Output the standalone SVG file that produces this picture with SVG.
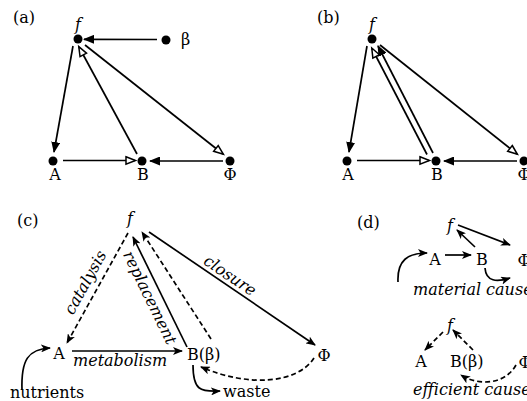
<svg xmlns="http://www.w3.org/2000/svg" width="527" height="401" viewBox="0 0 527 401">
<style>
.lbl{font-family:"DejaVu Serif","Liberation Serif",serif;font-size:16px;fill:#000}
.it{font-style:italic}
.mid{text-anchor:middle}
.ln{stroke:#000;stroke-width:1.7;fill:none}
.dash{stroke-dasharray:5 3}
.dot{fill:#000}
</style>
<defs>
<marker id="fh" viewBox="0 0 11 9" refX="10" refY="4.5" markerWidth="11" markerHeight="9" markerUnits="userSpaceOnUse" orient="auto"><path d="M0,0 L11,4.5 L0,9 z" fill="#000"/></marker>
<marker id="oh" viewBox="0 0 11 9" refX="10" refY="4.5" markerWidth="11" markerHeight="9" markerUnits="userSpaceOnUse" orient="auto" overflow="visible"><path d="M1,0.8 L10.5,4.5 L1,8.2 z" fill="#fff" stroke="#000" stroke-width="1.5"/></marker>
<marker id="st" viewBox="0 0 10 8" refX="9" refY="4" markerWidth="10" markerHeight="8" markerUnits="userSpaceOnUse" orient="auto"><path d="M0,0 L10,4 L0,8 L2.5,4 z" fill="#000"/></marker>
</defs>

<!-- panel labels -->
<text class="lbl" x="13" y="23">(a)</text>
<text class="lbl" x="317" y="23">(b)</text>
<text class="lbl" x="17" y="226">(c)</text>
<text class="lbl" x="357" y="228">(d)</text>

<!-- Panel (a) nodes -->
<g id="a-f"><circle class="dot" cx="78" cy="39" r="4.5"/><text class="lbl it mid" x="78" y="30">f</text></g>
<g id="a-beta"><circle class="dot" cx="166" cy="40" r="4.5"/><text class="lbl" x="181" y="45">β</text></g>
<g id="a-A"><circle class="dot" cx="53" cy="161" r="4.5"/><text class="lbl mid" x="55" y="180">A</text></g>
<g id="a-B"><circle class="dot" cx="142" cy="161" r="4.5"/><text class="lbl mid" x="143" y="180">B</text></g>
<g id="a-Phi"><circle class="dot" cx="230" cy="161" r="4.5"/><text class="lbl mid" x="230" y="180">Φ</text></g>

<!-- Panel (b) nodes -->
<g id="b-f"><circle class="dot" cx="372" cy="39" r="4.5"/><text class="lbl it mid" x="372" y="30">f</text></g>
<g id="b-A"><circle class="dot" cx="347" cy="161" r="4.5"/><text class="lbl mid" x="348" y="180">A</text></g>
<g id="b-B"><circle class="dot" cx="436" cy="161" r="4.5"/><text class="lbl mid" x="437" y="180">B</text></g>
<g id="b-Phi"><circle class="dot" cx="524" cy="161" r="4.5"/><text class="lbl mid" x="524" y="180">Φ</text></g>

<!-- Panel (c) nodes -->
<g id="c-f"><text class="lbl it mid" x="130" y="224">f</text></g>
<g id="c-A"><text class="lbl mid" x="59" y="359">A</text></g>
<g id="c-B"><text class="lbl" x="187" y="360">B(β)</text></g>
<g id="c-Phi"><text class="lbl mid" x="324" y="361">Φ</text></g>
<g id="c-nutrients"><text class="lbl" x="10" y="398">nutrients</text></g>
<g id="c-waste"><text class="lbl" x="223" y="397">waste</text></g>

<!-- Panel (d) nodes -->
<g id="d1-f"><text class="lbl it mid" x="450" y="231">f</text></g>
<g id="d1-A"><text class="lbl mid" x="435" y="265">A</text></g>
<g id="d1-B"><text class="lbl mid" x="482" y="265">B</text></g>
<g id="d1-Phi"><text class="lbl mid" x="524" y="266">Φ</text></g>
<g id="d1-caption"><text class="lbl it" x="413" y="295">material causes</text></g>
<g id="d2-f"><text class="lbl it mid" x="450" y="331">f</text></g>
<g id="d2-A"><text class="lbl mid" x="421" y="367">A</text></g>
<g id="d2-B"><text class="lbl" x="450" y="367">B(β)</text></g>
<g id="d2-Phi"><text class="lbl mid" x="525" y="368">Φ</text></g>
<g id="d2-caption"><text class="lbl it" x="413" y="395">efficient causes</text></g>

<!-- connectors -->
<g id="connectors">
<!-- (a) -->
<line class="ln" x1="157" y1="39.5" x2="84" y2="39.3" marker-end="url(#fh)"/>
<line class="ln" x1="73" y1="46" x2="54" y2="152" marker-end="url(#fh)"/>
<line class="ln" x1="63" y1="160.5" x2="135" y2="160.5" marker-end="url(#oh)"/>
<line class="ln" x1="137" y1="154" x2="79" y2="47" marker-end="url(#oh)"/>
<line class="ln" x1="85" y1="45" x2="223" y2="154" marker-end="url(#oh)"/>
<line class="ln" x1="223" y1="161" x2="150" y2="161" marker-end="url(#fh)"/>
<!-- (b) -->
<line class="ln" x1="367" y1="46" x2="349" y2="152" marker-end="url(#fh)"/>
<line class="ln" x1="357" y1="160.5" x2="429" y2="160.5" marker-end="url(#oh)"/>
<line class="ln" x1="517" y1="161" x2="444" y2="161" marker-end="url(#fh)"/>
<line class="ln" x1="380" y1="45" x2="517" y2="154" marker-end="url(#oh)"/>
<line class="ln" x1="427" y1="154.5" x2="372" y2="48.5" marker-end="url(#oh)"/>
<line class="ln" x1="433" y1="153" x2="378" y2="46" marker-end="url(#fh)"/>
<!-- (c) -->
<line class="ln dash" x1="128" y1="233" x2="67" y2="343" marker-end="url(#st)"/>
<line class="ln" x1="187" y1="347" x2="133" y2="237" marker-end="url(#st)"/>
<line class="ln dash" x1="211" y1="339" x2="142" y2="232" marker-end="url(#st)"/>
<line class="ln" x1="149" y1="232" x2="315" y2="345" marker-end="url(#st)"/>
<line class="ln" x1="72" y1="351" x2="182" y2="351" marker-end="url(#st)"/>
<path class="ln dash" d="M314 358 C298 383 250 388 201 367" marker-end="url(#st)"/>
<path class="ln" d="M22 390 C21 360 28 349 50 348" marker-end="url(#st)"/>
<path class="ln" d="M193 365 C193 390 200 392 220 391" marker-end="url(#st)"/>
<!-- (d) material -->
<line class="ln" x1="458" y1="225" x2="510" y2="245" marker-end="url(#st)"/>
<line class="ln" x1="445" y1="255" x2="471" y2="255" marker-end="url(#st)"/>
<line class="ln" x1="475" y1="247" x2="457" y2="230" marker-end="url(#st)"/>
<path class="ln" d="M398 282 C397 260 408 253 427 253" marker-end="url(#st)"/>
<path class="ln" d="M485 268 C486 282 497 282 510 278" marker-end="url(#st)"/>
<!-- (d) efficient -->
<line class="ln dash" x1="443" y1="332" x2="425" y2="350" marker-end="url(#st)"/>
<line class="ln dash" x1="473" y1="350" x2="453" y2="330" marker-end="url(#st)"/>
<path class="ln dash" d="M516 365 C505 385 478 386 461 375" marker-end="url(#st)"/>
<!-- edge labels -->
<text class="lbl it mid" transform="translate(90,285) rotate(-61)">catalysis</text>
<text class="lbl it mid" transform="translate(145,300) rotate(64)">replacement</text>
<text class="lbl it mid" transform="translate(227,280) rotate(34.2)">closure</text>
<text class="lbl it" x="73" y="366">metabolism</text>
</g>
</svg>
